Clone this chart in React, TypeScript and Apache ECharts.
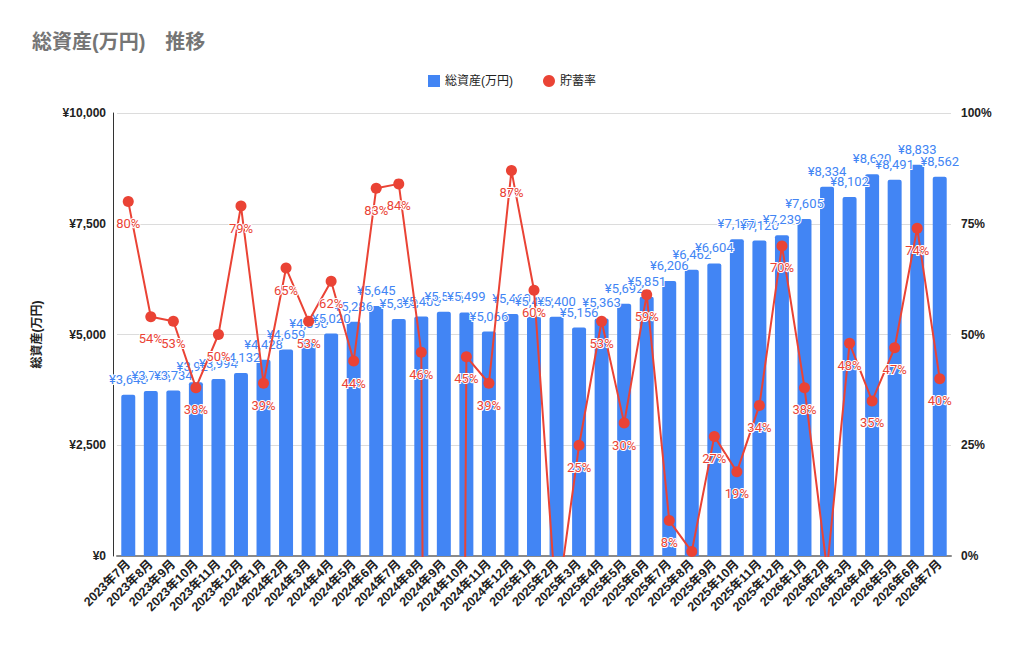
import { useEffect, useRef } from "react";
import * as echarts from "echarts";

const categories = [
  "2023年7月", "2023年8月", "2023年9月", "2023年10月", "2023年11月", "2023年12月",
  "2024年1月", "2024年2月", "2024年3月", "2024年4月", "2024年5月", "2024年6月",
  "2024年7月", "2024年8月", "2024年9月", "2024年10月", "2024年11月", "2024年12月",
  "2025年1月", "2025年2月", "2025年3月", "2025年4月", "2025年5月", "2025年6月",
  "2025年7月", "2025年8月", "2025年9月", "2025年10月", "2025年11月", "2025年12月",
  "2026年1月", "2026年2月", "2026年3月", "2026年4月", "2026年5月", "2026年6月",
  "2026年7月",
];

// 総資産 (万円)
const totalAssets = [
  3640, 3725, 3734, 3921, 3994, 4132,
  4428, 4659, 4890, 5020, 5286, 5645,
  5350, 5405, 5515, 5499, 5066, 5460,
  5402, 5400, 5156, 5363, 5692, 5851,
  6206, 6462, 6604, 7150, 7120, 7239,
  7605, 8334, 8102, 8620, 8491, 8833,
  8562,
];

// 貯蓄率 (%)
const savingsRate = [
  80, 54, 53, 38, 50, 79,
  39, 65, 53, 62, 44, 83,
  84, 46, -800, 45, 39, 87,
  60, -12, 25, 53, 30, 59,
  8, 1, 27, 19, 34, 70,
  38, -3, 48, 35, 47, 74,
  40,
];

const assetAxis = { min: 0, max: 10000, interval: 2500 };
const rateAxis = { min: 0, max: 100, interval: 25 };

const BLUE = "#4285F4";
const RED = "#EA4335";
const AXIS_FONT = "'Liberation Sans', Arial, 'Noto Sans CJK JP', sans-serif";
const LABEL_FONT = "Roboto, 'Noto Sans CJK JP', sans-serif";

export default function App() {
  const ref = useRef<HTMLDivElement>(null);

  useEffect(() => {
    if (!ref.current) return;
    const chart = echarts.init(ref.current, null, { renderer: "svg" });
    chart.setOption({
      animation: false,
      backgroundColor: "#ffffff",
      title: {
        text: "総資産(万円)　推移",
        left: 32,
        top: 32,
        padding: 0,
        textStyle: {
          fontFamily: AXIS_FONT,
          fontSize: 20,
          fontWeight: "bold",
          color: "#757575",
        },
      },
      legend: {
        top: 70,
        left: "center",
        itemGap: 30,
        itemWidth: 12,
        itemHeight: 12,
        textStyle: { fontFamily: AXIS_FONT, fontSize: 12, color: "#222222" },
        data: [
          { name: "総資産(万円)", icon: "rect" },
          { name: "貯蓄率", icon: "circle" },
        ],
      },
      grid: { left: 117, right: 73, top: 113, bottom: 89 },
      xAxis: {
        type: "category",
        data: categories,
        boundaryGap: true,
        axisTick: { show: false },
        axisLine: { show: true, lineStyle: { color: "#8a8a8a", width: 2 } },
        axisLabel: {
          rotate: 45,
          interval: 0,
          margin: 6,
          fontFamily: AXIS_FONT,
          fontSize: 12.5,
          fontWeight: "bold",
          color: "#222222",
        },
      },
      yAxis: [
        {
          type: "value",
          ...assetAxis,
          offset: 4,
          name: "総資産(万円)",
          nameLocation: "middle",
          nameRotate: 90,
          nameGap: 70,
          nameTextStyle: {
            fontFamily: AXIS_FONT,
            fontSize: 12,
            fontWeight: "bold",
            color: "#222222",
          },
          axisLine: { show: true, lineStyle: { color: "#333333", width: 1 } },
          axisTick: { show: false },
          splitLine: { show: true, lineStyle: { color: "#dcdcdc", width: 1 } },
          axisLabel: {
            margin: 7,
            fontFamily: AXIS_FONT,
            fontSize: 12,
            fontWeight: "bold",
            color: "#222222",
            formatter: (v: number) => "¥" + v.toLocaleString("en-US"),
          },
        },
        {
          type: "value",
          ...rateAxis,
          offset: 3,
          position: "right",
          axisLine: { show: false },
          axisTick: { show: false },
          splitLine: { show: false },
          axisLabel: {
            margin: 7,
            fontFamily: AXIS_FONT,
            fontSize: 12,
            fontWeight: "bold",
            color: "#222222",
            formatter: (v: number) => v + "%",
          },
        },
      ],
      series: [
        {
          name: "総資産(万円)",
          type: "bar",
          yAxisIndex: 0,
          data: totalAssets,
          barCategoryGap: "38%",
          itemStyle: { color: BLUE, borderRadius: [2, 2, 0, 0] },
          label: {
            show: true,
            position: "top",
            distance: 9,
            fontFamily: LABEL_FONT,
            fontSize: 13,
            color: BLUE,
            textBorderColor: "#ffffff",
            textBorderWidth: 2,
            formatter: (p: any) => "¥" + Number(p.value).toLocaleString("en-US"),
          },
        },
        {
          name: "貯蓄率",
          type: "line",
          yAxisIndex: 1,
          clip: true,
          data: savingsRate.map((v) => ({
            value: v,
            label: { show: v >= 5 },
          })),
          symbol: "circle",
          symbolSize: 11,
          itemStyle: { color: RED },
          lineStyle: { color: RED, width: 2 },
          label: {
            show: true,
            position: "bottom",
            distance: 10,
            fontFamily: LABEL_FONT,
            fontSize: 13,
            color: RED,
            textBorderColor: "#ffffff",
            textBorderWidth: 2,
            formatter: (p: any) => p.value + "%",
          },
        },
      ],
    });
    return () => chart.dispose();
  }, []);

  return (
    <div
      ref={ref}
      style={{ position: "fixed", left: 0, top: 0, width: 1024, height: 645 }}
    />
  );
}
